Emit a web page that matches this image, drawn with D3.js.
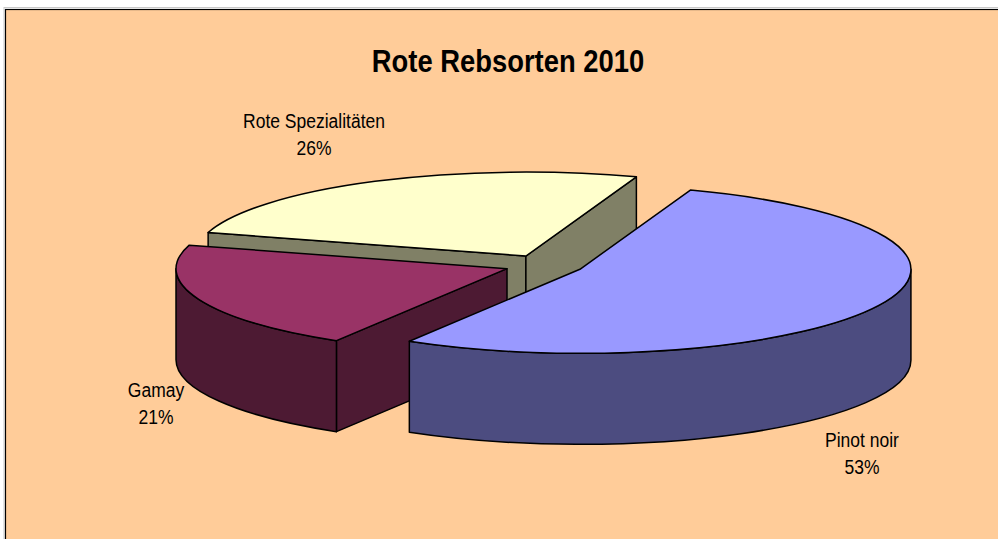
<!DOCTYPE html>
<html>
<head>
<meta charset="utf-8">
<script src="https://cdn.jsdelivr.net/npm/d3@7"></script>
<style>
  html, body { margin: 0; padding: 0; background: #ffffff; }
  svg { display: block; }
</style>
</head>
<body>
<svg id="chart" width="998" height="539"></svg>
<script>
// ---- data ----
const title = "Rote Rebsorten 2010";
const categories = ["Pinot noir", "Gamay", "Rote Spezialitäten"];
const values = [53.2, 20.9, 25.9];
const percentLabels = ["53%", "21%", "26%"];
const topColors = ["#9999FF", "#993366", "#FFFFCC"];
const sideColors = ["#4C4C80", "#4D1A33", "#808066"];

// ---- layout ----
const W = 998, H = 539;
const cx = 544, cy = 265, rx = 331, ry = 84, depth = 91, explode = 0.12;
const firstSliceDeg = 19.5;
const labelPos = [ [862, 447], [156, 397], [314, 128] ]; // baseline of first line
const lineGap = 26.5;

const svg = d3.select("#chart");

// background / chart area
svg.append("rect").attr("x", 0).attr("y", 0).attr("width", W).attr("height", H).attr("fill", "#ffffff");
svg.append("rect").attr("x", 4).attr("y", 7.5).attr("width", W + 20).attr("height", H + 20)
  .attr("fill", "none").attr("stroke", "#c8c8c8").attr("stroke-width", 1);
svg.append("rect").attr("x", 5.5).attr("y", 9.5).attr("width", W + 20).attr("height", H + 20)
  .attr("fill", "#FFCC99").attr("stroke", "#000").attr("stroke-width", 1.2);

// title
svg.append("text")
  .attr("transform", "translate(508,72) scale(1,1.12)")
  .attr("text-anchor", "middle")
  .attr("font-family", "'Liberation Sans', Arial, sans-serif")
  .attr("font-weight", "bold")
  .attr("font-size", 27.4)
  .attr("fill", "#000")
  .text(title);

const a0 = firstSliceDeg * Math.PI / 180;
const pie = d3.pie().sort(null).value(d => d.value).startAngle(a0).endAngle(a0 + 2 * Math.PI);
const data = categories.map((c, i) => ({ name: c, value: values[i], pct: percentLabels[i], top: topColors[i], side: sideColors[i], idx: i }));
const arcs = pie(data);

function pt(o, t, dz = 0) { return [o[0] + rx * Math.sin(t), o[1] - ry * Math.cos(t) + dz]; }

arcs.forEach(a => {
  const mid = (a.startAngle + a.endAngle) / 2;
  a.mid = mid;
  a.o = [cx + explode * rx * Math.sin(mid), cy - explode * ry * Math.cos(mid)];
});

// back to front
const order = arcs.slice().sort((p, q) => (-Math.cos(p.mid)) - (-Math.cos(q.mid)));

const g = svg.append("g")
  .attr("stroke", "#000").attr("stroke-width", 1.5).attr("stroke-linejoin", "round");

order.forEach(a => {
  const o = a.o, s = a.startAngle, e = a.endAngle;
  const sg = g.append("g");
  // radial faces
  const face = (t) => {
    const p1 = pt(o, t), p2 = pt(o, t, depth);
    return `M${o[0]},${o[1]}L${p1[0]},${p1[1]}L${p2[0]},${p2[1]}L${o[0]},${o[1] + depth}Z`;
  };
  if (Math.sin(s) < 0) sg.append("path").attr("d", face(s)).attr("fill", a.data.side);
  if (Math.sin(e) > 0) sg.append("path").attr("d", face(e)).attr("fill", a.data.side);
  // outer wall (front-facing part)
  [0, 2 * Math.PI].forEach(k => {
    const t1 = Math.max(s, Math.PI / 2 + k), t2 = Math.min(e, 3 * Math.PI / 2 + k);
    if (t2 > t1) {
      const p1 = pt(o, t1), p2 = pt(o, t2), p3 = pt(o, t2, depth), p4 = pt(o, t1, depth);
      sg.append("path")
        .attr("d", `M${p1[0]},${p1[1]}A${rx},${ry} 0 0 1 ${p2[0]},${p2[1]}L${p3[0]},${p3[1]}A${rx},${ry} 0 0 0 ${p4[0]},${p4[1]}Z`)
        .attr("fill", a.data.side);
    }
  });
  // top face
  const ps = pt(o, s), pe = pt(o, e);
  const large = (e - s) > Math.PI ? 1 : 0;
  sg.append("path")
    .attr("d", `M${o[0]},${o[1]}L${ps[0]},${ps[1]}A${rx},${ry} 0 ${large} 1 ${pe[0]},${pe[1]}Z`)
    .attr("fill", a.data.top);
});

// labels
const lg = svg.append("g")
  .attr("font-family", "'Liberation Sans', Arial, sans-serif")
  .attr("font-size", 17.5)
  .attr("fill", "#000")
  .attr("text-anchor", "middle");
arcs.forEach((a, i) => {
  const [lx, ly] = labelPos[a.data.idx];
  lg.append("text").attr("transform", `translate(${lx},${ly}) scale(1,1.2)`).text(a.data.name);
  lg.append("text").attr("transform", `translate(${lx},${ly + lineGap}) scale(1,1.2)`).text(a.data.pct);
});
</script>
</body>
</html>
